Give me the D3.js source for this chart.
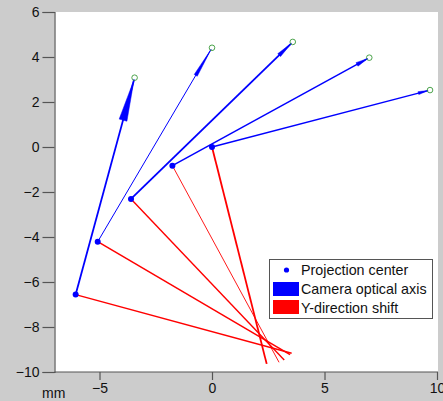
<!DOCTYPE html>
<html>
<head>
<meta charset="utf-8">
<script src="https://cdn.jsdelivr.net/npm/d3@7"></script>
<style>
  html, body { margin: 0; padding: 0; background: #cccccc; }
  svg { display: block; }
  text { font-family: "Liberation Sans", Arial, sans-serif; }
</style>
</head>
<body>
<svg id="chart" width="443" height="401"></svg>
<script>
// Camera projection centres (mm)
const centerX = [-6.06, -5.08, -3.60, -1.76, 0.00];
const centerY = [-6.56, -4.21, -2.31, -0.83, 0.00];
// End points of the camera optical axis vectors
const axisEndX = [-3.44, 0.00, 3.59, 6.99, 9.69];
const axisEndY = [3.08, 4.41, 4.67, 3.97, 2.53];
// End points of the Y-direction shift vectors
const shiftEndX = [3.54, 3.47, 3.21, 2.98, 2.43];
const shiftEndY = [-9.17, -9.23, -9.47, -9.57, -9.64];

const xTicks = [-5, 0, 5, 10];
const yTicks = [-10, -8, -6, -4, -2, 0, 2, 4, 6];
const legendLabels = ["Projection center", "Camera optical axis", "Y-direction shift"];

// Drawing style for each vector (stroke widths and arrow head size in px)
const arrowStyle = [
  { lw: 1.8, headLen: 42, headW: 8 },
  { lw: 1.0, headLen: 30, headW: 3.5 },
  { lw: 1.8, headLen: 17, headW: 4 },
  { lw: 1.5, headLen: 12, headW: 4 },
  { lw: 1.4, headLen: 10, headW: 3 }
];
const shiftWidth = [1.5, 1.5, 1.4, 0.9, 1.8];

const BLUE = "#0000ff", RED = "#ff0000", AXIS = "#555555";

const svg = d3.select("#chart");
const x = d3.scaleLinear().domain([-7, 10]).range([54.5, 437]);
const y = d3.scaleLinear().domain([-10, 6]).range([372, 12]);

// plot background
svg.append("rect")
  .attr("x", x(-7)).attr("y", y(6))
  .attr("width", 438 - x(-7)).attr("height", y(-10) - y(6))
  .attr("fill", "#ffffff");

// axes
const yAxis = svg.append("g")
  .attr("transform", `translate(${x(-7)},0)`)
  .call(d3.axisLeft(y).tickValues(yTicks).tickSize(12).tickPadding(3));
const xAxis = svg.append("g")
  .attr("transform", `translate(0,${y(-10)})`)
  .call(d3.axisBottom(x).tickValues(xTicks).tickSize(8).tickPadding(3));
[xAxis, yAxis].forEach(g => {
  g.select(".domain").attr("stroke", AXIS).attr("stroke-width", 1.2);
  g.selectAll(".tick line").attr("stroke", AXIS).attr("stroke-width", 1.2);
  g.selectAll(".tick text").attr("fill", "#111").style("font-size", "14px")
    .style("font-family", "'Liberation Sans', Arial, sans-serif");
});
xAxis.select(".domain").attr("d", `M${x(-7)},0H438`);

svg.append("text").attr("x", 42).attr("y", 398)
  .style("font-size", "14px").attr("fill", "#111").text("mm");

const idx = d3.range(centerX.length);

// Y-direction shift lines
svg.append("g").selectAll("line").data(idx).join("line")
  .attr("x1", i => x(centerX[i])).attr("y1", i => y(centerY[i]))
  .attr("x2", i => x(shiftEndX[i])).attr("y2", i => y(shiftEndY[i]))
  .attr("stroke", RED).attr("stroke-width", i => shiftWidth[i]);

// optical axis arrows
const arrows = svg.append("g");
idx.forEach(i => {
  const x0 = x(centerX[i]), y0 = y(centerY[i]);
  const x1 = x(axisEndX[i]), y1 = y(axisEndY[i]);
  const st = arrowStyle[i];
  const dx = x1 - x0, dy = y1 - y0, L = Math.hypot(dx, dy);
  const ux = dx / L, uy = dy / L, px = -uy, py = ux;
  const tx = x1 - ux * 2, ty = y1 - uy * 2;
  const bx = tx - ux * st.headLen, by = ty - uy * st.headLen;
  arrows.append("line")
    .attr("x1", x0).attr("y1", y0).attr("x2", tx).attr("y2", ty)
    .attr("stroke", BLUE).attr("stroke-width", st.lw);
  arrows.append("path")
    .attr("d", `M${tx},${ty}L${bx + px * st.headW / 2},${by + py * st.headW / 2}L${bx - px * st.headW / 2},${by - py * st.headW / 2}Z`)
    .attr("fill", BLUE).attr("stroke", BLUE).attr("stroke-width", 0.5);
  arrows.append("circle")
    .attr("cx", x1).attr("cy", y1).attr("r", 2.8)
    .attr("fill", "none").attr("stroke", "#3a9a3a").attr("stroke-width", 0.9);
});

// projection centres
svg.append("g").selectAll("circle").data(idx).join("circle")
  .attr("cx", i => x(centerX[i])).attr("cy", i => y(centerY[i]))
  .attr("r", 3).attr("fill", BLUE);

// legend
const lg = svg.append("g");
lg.append("rect").attr("x", 269.5).attr("y", 259.5).attr("width", 163).attr("height", 59)
  .attr("fill", "#ffffff").attr("stroke", "#555").attr("stroke-width", 1);
lg.append("circle").attr("cx", 286.5).attr("cy", 270).attr("r", 2.6).attr("fill", BLUE);
lg.append("rect").attr("x", 273).attr("y", 282).attr("width", 26).attr("height", 14).attr("fill", BLUE);
lg.append("rect").attr("x", 273).attr("y", 300).attr("width", 26).attr("height", 14).attr("fill", RED);
lg.selectAll("text").data(legendLabels).join("text")
  .attr("x", 301).attr("y", (d, i) => 275 + i * 19)
  .style("font-size", "14.3px").attr("fill", "#111").text(d => d);
</script>
</body>
</html>
